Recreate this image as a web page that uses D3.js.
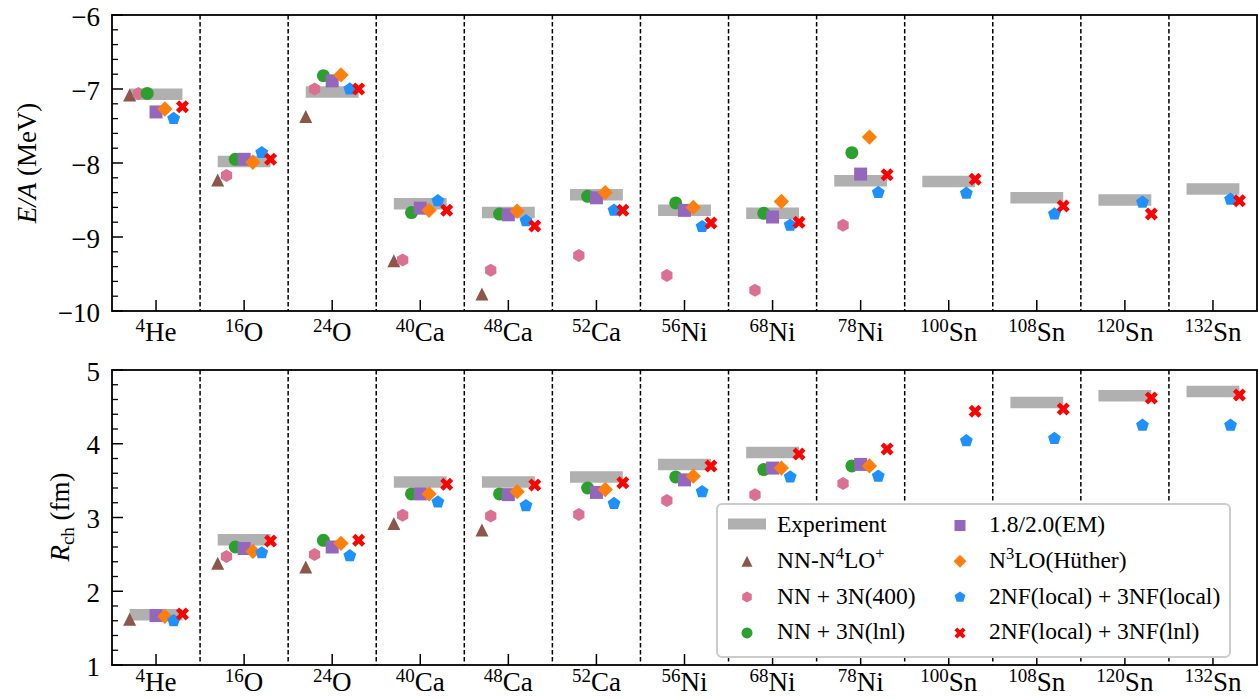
<!DOCTYPE html>
<html>
<head>
<meta charset="utf-8">
<script src="https://cdn.jsdelivr.net/npm/d3@7"></script>
<style>
  body { margin: 0; background: #fff; }
  svg { display: block; }
  svg text { font-family: "Liberation Serif", Tinos, "Times New Roman", "Nimbus Roman", "DejaVu Serif", serif; fill: #000; }
</style>
</head>
<body>
<svg id="chart" width="1258" height="698"></svg>
<script>
// Nuclei along the x axis
const massNumbers = ["4", "16", "24", "40", "48", "52", "56", "68", "78", "100", "108", "120", "132"];
const elements    = ["He", "O", "O", "Ca", "Ca", "Ca", "Ni", "Ni", "Ni", "Sn", "Sn", "Sn", "Sn"];

// Axis ticks
const ticksEA = [-10, -9, -8, -7, -6];
const ticksR  = [1, 2, 3, 4, 5];

// Binding energy per nucleon E/A (MeV)
const expEA      = [-7.07, -7.98, -7.04, -8.55, -8.67, -8.43, -8.64, -8.68, -8.24, -8.25, -8.47, -8.50, -8.35];
const n4loEA     = [-7.08, -8.23, -7.37, -9.32, -9.77, null, null, null, null, null, null, null, null];
const nn400EA    = [-7.06, -8.17, -7.00, -9.31, -9.45, -9.25, -9.52, -9.72, -8.84, null, null, null, null];
const nnLnlEA    = [-7.06, -7.95, -6.82, -8.67, -8.69, -8.45, -8.54, -8.68, -7.86, null, null, null, null];
const emEA       = [-7.31, -7.95, -6.89, -8.61, -8.70, -8.47, -8.64, -8.73, -8.15, null, null, null, null];
const huetherEA  = [-7.27, -7.99, -6.81, -8.64, -8.65, -8.40, -8.60, -8.52, -7.65, null, null, null, null];
const localEA    = [-7.40, -7.86, -7.00, -8.51, -8.78, -8.64, -8.86, -8.84, -8.40, -8.41, -8.69, -8.53, -8.49];
const localLnlEA = [-7.24, -7.95, -7.00, -8.64, -8.85, -8.64, -8.81, -8.80, -8.16, -8.22, -8.58, -8.69, -8.51];

// Charge radius R_ch (fm)
const expR       = [1.68, 2.70, null, 3.48, 3.48, 3.55, 3.72, 3.88, null, null, 4.56, 4.65, 4.71];
const n4loR      = [1.62, 2.38, 2.33, 2.92, 2.83, null, null, null, null, null, null, null, null];
const nn400R     = [null, 2.47, 2.50, 3.03, 3.02, 3.04, 3.23, 3.31, 3.46, null, null, null, null];
const nnLnlR     = [null, 2.60, 2.69, 3.32, 3.32, 3.40, 3.55, 3.65, 3.70, null, null, null, null];
const emR        = [1.67, 2.58, 2.60, 3.32, 3.31, 3.34, 3.51, 3.67, 3.72, null, null, null, null];
const huetherR   = [1.66, 2.54, 2.65, 3.32, 3.35, 3.38, 3.56, 3.67, 3.70, null, null, null, null];
const localR     = [1.60, 2.52, 2.48, 3.21, 3.16, 3.19, 3.35, 3.55, 3.56, 4.04, 4.07, 4.25, 4.25];
const localLnlR  = [1.69, 2.68, 2.69, 3.45, 3.44, 3.47, 3.70, 3.86, 3.93, 4.44, 4.47, 4.62, 4.66];

// Theory series: label parts (text, superscript flag), marker and colour
const series = [
  { label: [["NN-N"], ["4", 1], ["LO"], ["+", 1]], shape: "triangle", color: "#8c564b", offset: -0.3, ea: n4loEA,     r: n4loR },
  { label: [["NN + 3N(400)"]],                      shape: "hexagon",  color: "#db7093", offset: -0.2, ea: nn400EA,    r: nn400R },
  { label: [["NN + 3N(lnl)"]],                      shape: "circle",   color: "#2ca02c", offset: -0.1, ea: nnLnlEA,    r: nnLnlR },
  { label: [["1.8/2.0(EM)"]],                       shape: "square",   color: "#9467bd", offset:  0.0, ea: emEA,       r: emR },
  { label: [["N"], ["3", 1], ["LO(Hüther)"]],       shape: "diamond",  color: "#ff7f0e", offset:  0.1, ea: huetherEA,  r: huetherR },
  { label: [["2NF(local) + 3NF(local)"]],           shape: "pentagon", color: "#1e90ff", offset:  0.2, ea: localEA,    r: localR },
  { label: [["2NF(local) + 3NF(lnl)"]],             shape: "xfilled",  color: "#ff0000", offset:  0.3, ea: localLnlEA, r: localLnlR }
];

const FONT = '"Liberation Serif", Tinos, "Times New Roman", "Nimbus Roman", "DejaVu Serif", serif';
const svg = d3.select("#chart");
const left = 112, right = 1257;
const x = d3.scaleLinear().domain([-0.5, massNumbers.length - 0.5]).range([left, right]);

const expColor = "#b0b0b0";
const expHalf = 0.3;   // half-width of experimental bar, in category units

function polygon(n, r, rot) {
  const pts = d3.range(n).map(i => {
    const a = rot + i * 2 * Math.PI / n;
    return [r * Math.cos(a), r * Math.sin(a)];
  });
  return "M" + pts.map(p => p[0].toFixed(2) + "," + p[1].toFixed(2)).join("L") + "Z";
}

function markerPath(shape, s) {
  const r = s / 2;
  switch (shape) {
    case "triangle": return `M0,${-r}L${r},${r}L${-r},${r}Z`;
    case "hexagon":  return polygon(6, r, -Math.PI / 2);
    case "pentagon": return polygon(5, r * 1.04, -Math.PI / 2);
    case "circle":   return d3.symbol(d3.symbolCircle, Math.PI * r * r)();
    case "square":   return `M${-r},${-r}H${r}V${r}H${-r}Z`;
    case "diamond": { const d = r * 1.18; return `M0,${-d}L${d},0L0,${d}L${-d},0Z`; }
    case "xfilled": {
      const L = r * 1.06, w = L / 3;
      const base = [[-w,-L],[w,-L],[w,-w],[L,-w],[L,w],[w,w],[w,L],[-w,L],[-w,w],[-L,w],[-L,-w],[-w,-w]];
      const c = Math.SQRT1_2;
      const pts = base.map(([px, py]) => [c * (px - py), c * (px + py)]);
      return "M" + pts.map(p => p[0].toFixed(2) + "," + p[1].toFixed(2)).join("L") + "Z";
    }
  }
}

function drawPanel(cfg) {
  const { top, bottom, domain, ticks, minorStep, key, expValues, fmt, labelGap } = cfg;
  const y = d3.scaleLinear().domain(domain).range([bottom, top]);
  const g = svg.append("g");

  // category separators
  g.selectAll("line.sep").data(d3.range(massNumbers.length - 1)).join("line")
    .attr("x1", i => x(i + 0.5)).attr("x2", i => x(i + 0.5))
    .attr("y1", top).attr("y2", bottom)
    .attr("stroke", "#000").attr("stroke-width", 1.5).attr("stroke-dasharray", "4.5,2.5");

  // experimental values as thick horizontal bars
  g.selectAll("line.exp").data(expValues.map((v, i) => ({ v, i })).filter(d => d.v !== null)).join("line")
    .attr("x1", d => x(d.i - expHalf)).attr("x2", d => x(d.i + expHalf))
    .attr("y1", d => y(d.v)).attr("y2", d => y(d.v))
    .attr("stroke", expColor).attr("stroke-width", 11.5);

  // theory markers
  series.forEach(s => {
    const pts = s[key].map((v, i) => ({ v, i })).filter(d => d.v !== null);
    g.selectAll(null).data(pts).join("path")
      .attr("d", markerPath(s.shape, 13))
      .attr("transform", d => `translate(${x(d.i + s.offset)},${y(d.v)})`)
      .attr("fill", s.color);
  });

  // y axis: inward ticks
  const yAxis = d3.axisLeft(y).tickValues(ticks).tickSize(0).tickFormat(fmt);
  const minor = d3.range(domain[0], domain[1] + 1e-9, minorStep * Math.sign(domain[1] - domain[0]))
    .filter(v => Math.abs(v - Math.round(v)) > 1e-6);
  g.selectAll("line.minor").data(minor).join("line")
    .attr("x1", left).attr("x2", left + 6).attr("y1", v => y(v)).attr("y2", v => y(v))
    .attr("stroke", "#000").attr("stroke-width", 1.3);
  g.selectAll("line.major").data(ticks).join("line")
    .attr("x1", left).attr("x2", left + 11).attr("y1", v => y(v)).attr("y2", v => y(v))
    .attr("stroke", "#000").attr("stroke-width", 1.5);
  const ya = g.append("g").attr("transform", `translate(${left},0)`).call(yAxis)
    .attr("font-family", FONT);
  ya.select(".domain").remove();
  ya.selectAll("text").attr("x", -12).attr("dy", null).attr("y", 10)
    .attr("font-size", 27).attr("fill", "#000");

  // x axis: inward ticks and nucleus labels
  const xAxis = d3.axisBottom(x).tickValues(d3.range(massNumbers.length)).tickSize(0).tickFormat("");
  const xa = g.append("g").attr("transform", `translate(0,${bottom})`).call(xAxis);
  xa.select(".domain").remove();
  g.selectAll("line.xt").data(d3.range(massNumbers.length)).join("line")
    .attr("x1", i => x(i)).attr("x2", i => x(i)).attr("y1", bottom).attr("y2", bottom - 11)
    .attr("stroke", "#000").attr("stroke-width", 1.5);
  const lbl = g.selectAll("text.nuc").data(d3.range(massNumbers.length)).join("text")
    .attr("x", i => x(i)).attr("y", bottom + labelGap).attr("text-anchor", "middle")
    .attr("font-size", 27).attr("font-family", FONT);
  lbl.append("tspan").attr("font-size", 19).attr("dy", -9).text(i => massNumbers[i]);
  lbl.append("tspan").attr("dy", 9).text(i => elements[i]);

  // frame
  g.append("rect").attr("x", left).attr("y", top).attr("width", right - left).attr("height", bottom - top)
    .attr("fill", "none").attr("stroke", "#000").attr("stroke-width", 1.8);
  return y;
}

const fmtMinus = d => (d < 0 ? "\u2212" + Math.abs(d) : String(d));

drawPanel({ top: 15, bottom: 311, domain: [-10, -6], ticks: ticksEA, minorStep: 0.2,
            key: "ea", expValues: expEA, fmt: fmtMinus, labelGap: 30 });
drawPanel({ top: 370, bottom: 665, domain: [1, 5], ticks: ticksR, minorStep: 0.2,
            key: "r", expValues: expR, fmt: fmtMinus, labelGap: 26 });

// y-axis titles
const t1 = svg.append("text").attr("transform", "translate(36,163) rotate(-90)")
  .attr("text-anchor", "middle").attr("font-size", 27).attr("font-family", FONT);
t1.append("tspan").attr("font-style", "italic").text("E/A");
t1.append("tspan").text(" (MeV)");

const t2 = svg.append("text").attr("transform", "translate(69,517) rotate(-90)")
  .attr("text-anchor", "middle").attr("font-size", 27).attr("font-family", FONT);
t2.append("tspan").attr("font-style", "italic").text("R");
t2.append("tspan").attr("font-size", 19).attr("dy", 5).text("ch");
t2.append("tspan").attr("dy", -5).text(" (fm)");

// legend
const lg = svg.append("g").attr("font-family", FONT);
lg.append("rect").attr("x", 717).attr("y", 504).attr("width", 513).attr("height", 153)
  .attr("rx", 5).attr("fill", "#fff").attr("stroke", "#cccccc").attr("stroke-width", 2);

const rowBase = i => 532 + i * 35.8;
const legendItems = [
  { col: 0, row: 0, exp: true, label: [["Experiment"]] },
  ...series.map((s, k) => ({ col: k < 3 ? 0 : 1, row: k < 3 ? k + 1 : k - 3, s, label: s.label }))
];
legendItems.forEach(it => {
  const mx = it.col === 0 ? 747 : 960;
  const tx = it.col === 0 ? 777 : 989;
  const by = rowBase(it.row);
  if (it.exp) {
    lg.append("line").attr("x1", 728).attr("x2", 766).attr("y1", by - 8).attr("y2", by - 8)
      .attr("stroke", expColor).attr("stroke-width", 11);
  } else {
    lg.append("path").attr("d", markerPath(it.s.shape, 11))
      .attr("transform", `translate(${mx},${by - 6.5})`).attr("fill", it.s.color);
  }
  const t = lg.append("text").attr("x", tx).attr("y", by).attr("font-size", 23.5);
  let raised = false;
  it.label.forEach(([str, sup]) => {
    const ts = t.append("tspan").text(str);
    if (sup && !raised) { ts.attr("font-size", 16.5).attr("dy", -9); raised = true; }
    else if (!sup && raised) { ts.attr("dy", 9); raised = false; }
  });
});
</script>
</body>
</html>
